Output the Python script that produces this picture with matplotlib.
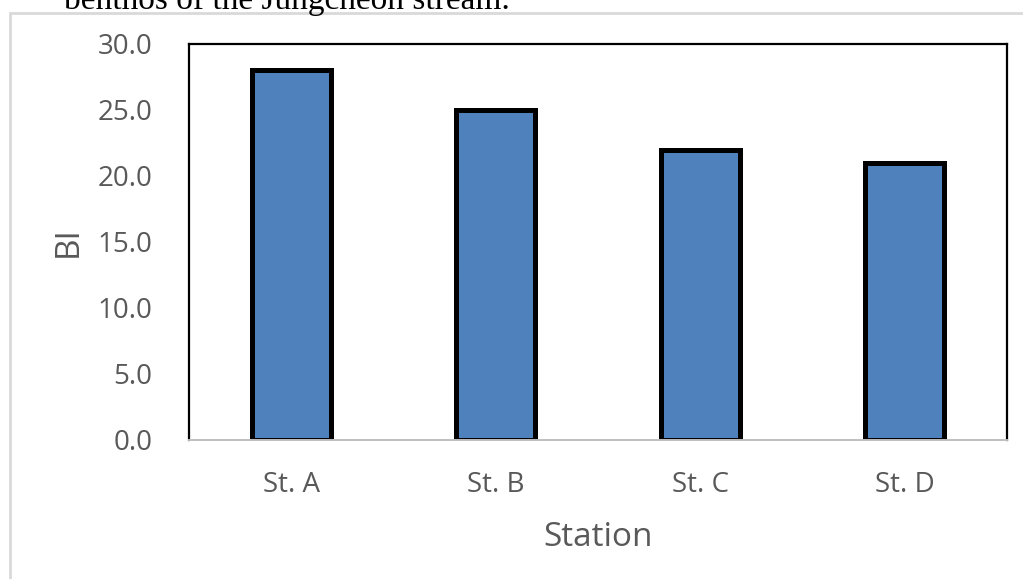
import numpy as np
import matplotlib.pyplot as plt
from matplotlib.patches import Rectangle

stations = ["St. A", "St. B", "St. C", "St. D"]
bi = [28.0, 25.0, 22.0, 21.0]
yticks = [0, 5, 10, 15, 20, 25, 30]

W, H = 1023, 579
fig = plt.figure(figsize=(W / 100, H / 100), dpi=100)
plt.rcParams['font.family'] = ['Open Sans', 'DejaVu Sans']

# light grey outline of the chart box, running off the right and bottom edges
fig.patches.append(Rectangle((10 / W, -0.1), 1.2, 1 - 13 / H + 0.1, transform=fig.transFigure,
                             fill=False, edgecolor='#d9d9d9', linewidth=2))
# caption line from the page above, partly cut off
fig.text(64 / W, 1 - 9 / H, "benthos of the Jungcheon stream.", family='Liberation Serif',
         fontsize=24, color='black', va='baseline', ha='left')

ax = fig.add_axes([189 / W, 1 - 440 / H, (1007 - 189) / W, (440 - 44) / H])
x = np.arange(len(stations))
ax.bar(x, bi, width=0.385, color='#4f81bd', edgecolor='black', linewidth=3.6, zorder=3)

ax.set_xlim(-0.5, len(stations) - 0.5)
ax.set_ylim(0, 30)
ax.set_yticks(yticks)
ax.set_yticklabels([f"{v:.1f}" for v in yticks])
ax.set_xticks(x)
ax.set_xticklabels(stations)
ax.tick_params(length=0, labelsize=20, colors='#595959')
ax.tick_params(axis='y', pad=26.5)
ax.tick_params(axis='x', pad=22)

for s in ['left', 'top', 'right']:
    ax.spines[s].set_color('black')
    ax.spines[s].set_linewidth(1.6)
ax.spines['bottom'].set_color('#bfbfbf')
ax.spines['bottom'].set_linewidth(1.4)
ax.spines['bottom'].set_zorder(4)

ax.set_xlabel("Station", fontsize=24, color='#595959', labelpad=16.5)
ax.set_ylabel("BI", fontsize=24, color='#595959', labelpad=9)

fig.savefig("out.png", dpi=100)
